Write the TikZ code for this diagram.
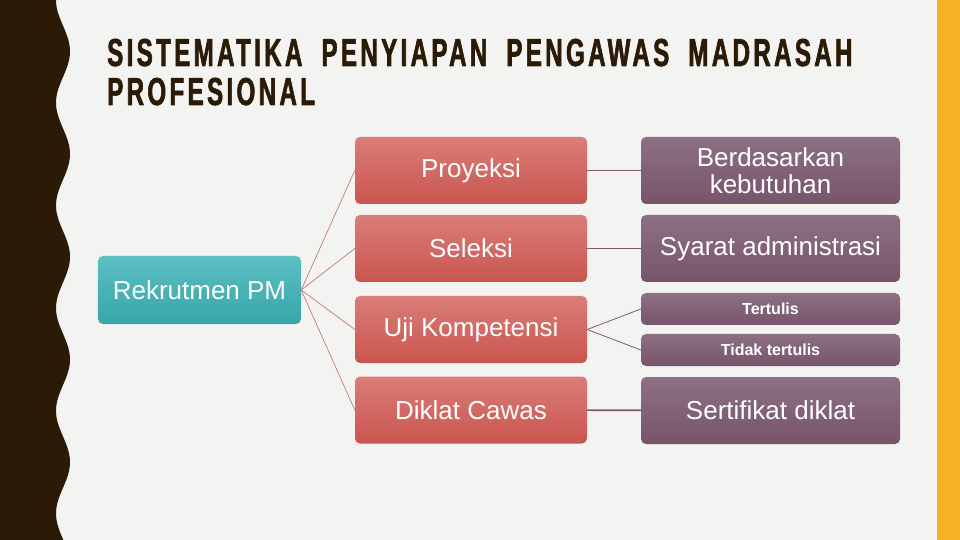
\documentclass[tikz,border=0pt]{standalone}
\usepackage{fontspec}
\setmainfont{Liberation Sans}
\newfontfamily\titlefont{Liberation Sans}[FakeStretch=0.62,LetterSpace=8.5,WordSpace=1.9,FakeBold=1.5]
\definecolor{bark}{HTML}{2A1A06}
\definecolor{paper}{HTML}{F3F3F1}
\definecolor{amber}{HTML}{F5B324}
\definecolor{redtop}{HTML}{DB7D78}
\definecolor{redbot}{HTML}{C9554F}
\definecolor{plumtop}{HTML}{8D7083}
\definecolor{plumbot}{HTML}{77546A}
\definecolor{tealtop}{HTML}{5CBFC3}
\definecolor{tealbot}{HTML}{37A6A8}
\definecolor{redline}{HTML}{C27A78}
\definecolor{plumline}{HTML}{7B5D6E}
\begin{document}
\begin{tikzpicture}[x=1bp,y=-1bp,line join=round,line cap=round,font=\fontsize{26bp}{27bp}\selectfont]
	\tikzset{box/.style={rounded corners=5bp,text=white,inner sep=0pt,align=center},
		redbox/.style={box,top color=redtop,bottom color=redbot,minimum width=232bp,minimum height=67bp},
		plumbox/.style={box,top color=plumtop,bottom color=plumbot,minimum width=259bp,minimum height=67bp},
		tealbox/.style={box,top color=tealtop,bottom color=tealbot,minimum width=203bp,minimum height=68bp},
		smallbox/.style={plumbox,minimum height=32bp,font=\bfseries\fontsize{16bp}{18bp}\selectfont},
		titletext/.style={anchor=base west,inner sep=0pt,text=bark,font=\titlefont\bfseries\fontsize{39bp}{39bp}\selectfont}}
	\fill[paper] (0,0) rectangle (960,540);
	\useasboundingbox (0,0) rectangle (960,540);
	\fill[amber] (937,0) rectangle (960,540);
	\fill[bark] (0,0)--plot[domain=0:540,samples=200,smooth,variable=\t] ({63-7*cos(\t/102.7*360)},\t)--(0,540)--cycle;
	\node[titletext] (title) at (107,66) {SISTEMATIKA PENYIAPAN PENGAWAS MADRASAH};
	\node[titletext] (title2) at (107,105) {PROFESIONAL};
	\node[tealbox] (rekrut) at (199.5,290) {Rekrutmen PM};
	\node[redbox] (proyeksi) at (471,170.5) {Proyeksi};
	\node[redbox] (seleksi) at (471,248.5) {Seleksi};
	\node[redbox] (uji) at (471,329.5) {Uji Kompetensi};
	\node[redbox] (diklat) at (471,410) {Diklat Cawas};
	\node[plumbox] (butuh) at (770.5,170.5) {Berdasarkan\\kebutuhan};
	\node[plumbox] (syarat) at (770.5,248.5) {Syarat administrasi};
	\node[smallbox] (tulis) at (770.5,309) {Tertulis};
	\node[smallbox] (tidak) at (770.5,350) {Tidak tertulis};
	\node[plumbox] (sertifikat) at (770.5,410.5) {Sertifikat diklat};
	\foreach \n in {proyeksi,seleksi,uji,diklat}
		\draw[redline,line width=0.7bp] (rekrut.east)--(\n.west);
	\foreach \a/\b in {proyeksi/butuh,seleksi/syarat,diklat/sertifikat}
		\draw[plumline,line width=1.6bp] (\a)--(\b);
	\foreach \n in {tulis,tidak}
		\draw[plumline,line width=0.8bp] (uji.east)--(\n.west);
\end{tikzpicture}
\end{document}
